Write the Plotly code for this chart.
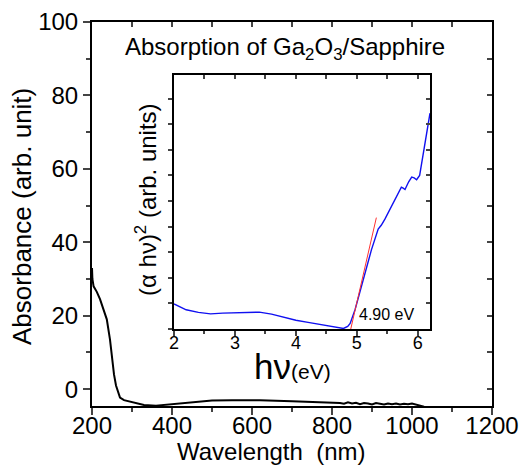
import plotly.graph_objects as go

# Main spectrum: wavelength (nm) vs absorbance
wavelength = [200, 201, 204, 212, 220, 228, 237, 245, 250, 255, 260, 265, 270, 280, 300, 330, 360, 400,
              450, 500, 550, 620, 700, 760, 800, 820, 830, 840, 850, 860, 870, 880, 890, 900, 910,
              920, 930, 940, 950, 960, 970, 980, 990, 1000, 1010, 1020, 1030]
absorbance = [33, 30, 28, 26.5, 24.5, 22, 19, 13.5, 8.5, 4, 1, -1, -2.3, -3, -3.6, -4.3, -4.5, -4.1,
              -3.6, -3.1, -3.0, -3.0, -3.3, -3.5, -3.6, -3.8, -4.0, -3.6, -3.9, -3.7, -4.1, -3.8, -3.9,
              -4.2, -3.8, -4.0, -4.2, -3.9, -4.1, -3.9, -4.2, -4.0, -4.1, -3.9, -4.2, -4.4, -4.8]

# Inset: Tauc plot
photon_ev = [2.0, 2.1, 2.2, 2.4, 2.6, 2.8, 3.0, 3.2, 3.4, 3.6, 3.8, 4.0, 4.2, 4.4, 4.6, 4.72, 4.78,
             4.85, 4.89, 4.97, 5.1, 5.24, 5.35, 5.40, 5.46, 5.53, 5.60, 5.67, 5.73, 5.76, 5.79, 5.85,
             5.90, 5.94, 5.98, 6.03, 6.09, 6.14, 6.17, 6.2]
tauc = [0.98, 0.85, 0.75, 0.65, 0.59, 0.62, 0.64, 0.66, 0.66, 0.58, 0.45, 0.34, 0.26, 0.18, 0.11,
        0.04, 0.02, 0.1, 0.22, 0.75, 1.93, 3.1, 3.9, 4.05, 4.29, 4.6, 4.95, 5.25, 5.54, 5.5, 5.45,
        5.75, 5.93, 5.9, 5.83, 6.0, 6.92, 7.6, 8.1, 8.43]
fit_x = [4.90, 5.32]
fit_y = [0.0, 4.35]
gap_label = "4.90 eV"

W, H = 519, 465
def px(x): return x / W
def py(y): return 1 - y / H

FONT = "Arial, Liberation Sans, sans-serif"

main_x = [px(92), px(492)]
main_y = [py(406), py(22)]
ins_x = [px(174), px(430)]
ins_y = [py(329), py(75)]

fig = go.Figure()
fig.add_trace(go.Scatter(x=wavelength, y=absorbance, mode="lines",
                         line=dict(color="black", width=2), xaxis="x", yaxis="y", showlegend=False))
fig.add_trace(go.Scatter(x=[None], y=[None], xaxis="x3", yaxis="y3", showlegend=False, hoverinfo="skip"))
fig.add_trace(go.Scatter(x=photon_ev, y=tauc, mode="lines",
                         line=dict(color="#1010f0", width=1.4), xaxis="x2", yaxis="y2", showlegend=False))
fig.add_trace(go.Scatter(x=fit_x, y=fit_y, mode="lines",
                         line=dict(color="#ff3030", width=1), xaxis="x2", yaxis="y2", showlegend=False))
fig.add_trace(go.Scatter(x=[None], y=[None], xaxis="x4", yaxis="y4", showlegend=False, hoverinfo="skip"))

tickfont_main = dict(family=FONT, size=24, color="black")
tickfont_ins = dict(family=FONT, size=18, color="black")

common = dict(showgrid=False, zeroline=False, automargin=False, showline=True, linecolor="black")

fig.update_layout(
    width=W, height=H, margin=dict(l=0, r=0, t=0, b=0, pad=0, autoexpand=False),
    paper_bgcolor="white", plot_bgcolor="rgba(0,0,0,0)",
    xaxis=dict(domain=main_x, range=[200, 1200], tickvals=[200, 400, 600, 800, 1000, 1200],
               ticks="outside", ticklen=7, tickwidth=2, linewidth=2, ticklabelstandoff=-10,
               tickfont=tickfont_main, anchor="y",
               minor=dict(tickvals=[300, 500, 700, 900, 1100], ticks="outside", ticklen=4, tickwidth=2,
                          showgrid=False), **common),
    yaxis=dict(domain=main_y, range=[-4.6, 100], tickvals=[0, 20, 40, 60, 80, 100],
               ticks="outside", ticklen=7, tickwidth=2, linewidth=2,
               tickfont=tickfont_main, anchor="x",
               minor=dict(tickvals=[10, 30, 50, 70, 90], ticks="outside", ticklen=4, tickwidth=2,
                          showgrid=False), **common),
    xaxis3=dict(overlaying="x", side="top", anchor="y3", range=[200, 1200], dtick=100, tick0=200,
                ticks="inside", ticklen=5, tickwidth=2, linewidth=2,
                showticklabels=False, **common),
    yaxis3=dict(overlaying="y", side="right", anchor="x3", range=[-4.6, 100], dtick=10, tick0=0,
                ticks="inside", ticklen=5, tickwidth=2, linewidth=2,
                showticklabels=False, **common),
    xaxis2=dict(domain=ins_x, range=[2, 6.2], tickvals=[2, 3, 4, 5, 6], anchor="y2",
                ticks="outside", ticklen=5, tickwidth=1.5, linewidth=1.5, ticklabelstandoff=-8,
                tickfont=tickfont_ins,
                minor=dict(tickvals=[2.5, 3.5, 4.5, 5.5], ticks="outside", ticklen=3, tickwidth=1.5,
                           showgrid=False), **common),
    yaxis2=dict(domain=ins_y, range=[0, 9.92], dtick=1, tick0=0, anchor="x2",
                ticks="outside", ticklen=4, tickwidth=1.5, linewidth=1.5,
                showticklabels=False, **common),
    xaxis4=dict(overlaying="x2", side="top", anchor="y4", range=[2, 6.2], dtick=0.5, tick0=2,
                ticks="inside", ticklen=4, tickwidth=1.5, linewidth=1.5,
                showticklabels=False, **common),
    yaxis4=dict(overlaying="y2", side="right", anchor="x4", range=[0, 9.92], dtick=1, tick0=0,
                ticks="inside", ticklen=4, tickwidth=1.5, linewidth=1.5,
                showticklabels=False, **common),
)

ann = []
ann.append(dict(text="Absorbance (arb. unit)", x=px(22), y=py(217), xref="paper", yref="paper",
                textangle=-90, showarrow=False, font=dict(family=FONT, size=26, color="black"),
                xanchor="center", yanchor="middle"))
ann.append(dict(text="Wavelength&nbsp;&nbsp;(nm)", x=px(271), y=py(451), xref="paper", yref="paper",
                showarrow=False, font=dict(family=FONT, size=24, color="black"),
                xanchor="center", yanchor="middle"))
ann.append(dict(text="Absorption of Ga<sub>2</sub>O<sub>3</sub>/Sapphire", x=px(285), y=py(48),
                xref="paper", yref="paper", showarrow=False,
                font=dict(family=FONT, size=24, color="black"), xanchor="center", yanchor="middle"))
ann.append(dict(text="(α hν)<sup>2</sup> (arb. units)", x=px(146), y=py(200), xref="paper", yref="paper",
                textangle=-90, showarrow=False, font=dict(family=FONT, size=24, color="black"),
                xanchor="center", yanchor="middle"))
ann.append(dict(text="<span style='font-size:35px'>hν</span>(eV)", x=px(292), y=py(366),
                xref="paper", yref="paper", showarrow=False,
                font=dict(family=FONT, size=21, color="black"), xanchor="center", yanchor="middle"))
ann.append(dict(text=gap_label, x=5.48, y=0.55, xref="x2", yref="y2", showarrow=False,
                font=dict(family=FONT, size=16, color="black"), xanchor="center", yanchor="middle"))
fig.update_layout(annotations=ann)

fig.write_html("out.html", config={"displayModeBar": False},
               post_script="document.body.style.margin='0px';")
